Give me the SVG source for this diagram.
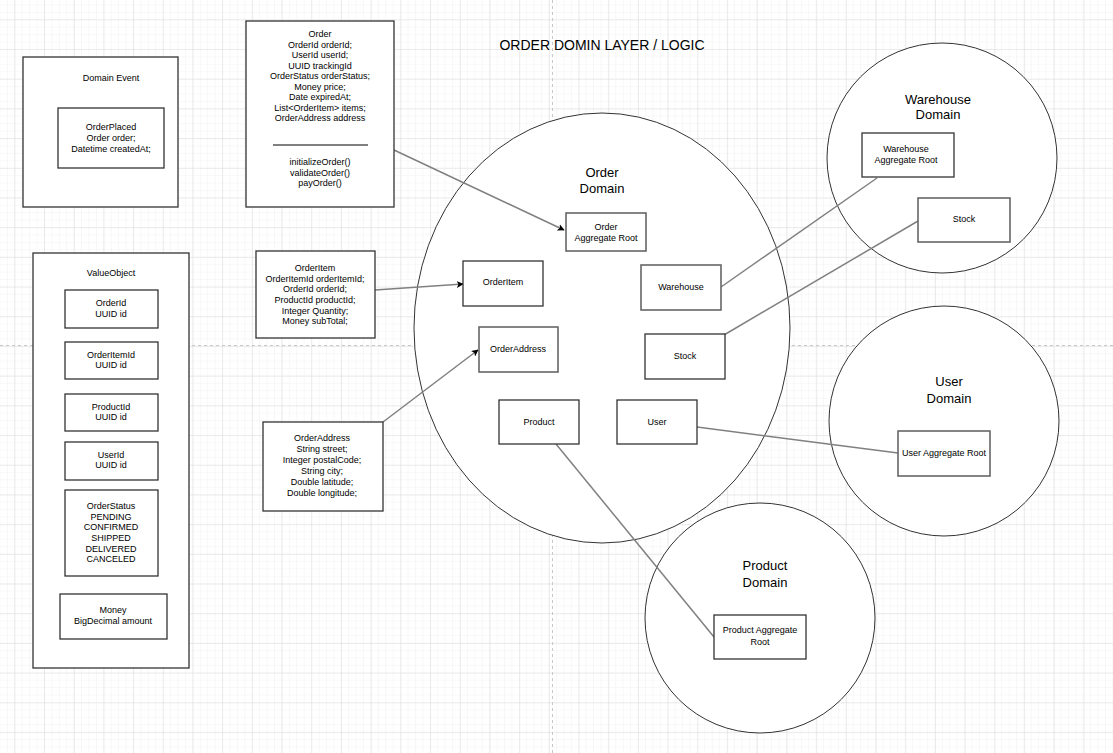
<svg xmlns="http://www.w3.org/2000/svg" width="1113" height="753" viewBox="0 0 1113 753">
  <defs>
    <pattern id="minor" x="14.3" y="19.3" width="7.42" height="7.42" patternUnits="userSpaceOnUse">
      <path d="M0 0H7.42M0 0V7.42" fill="none" stroke="#f1f1f1" stroke-width="1"/>
    </pattern>
    <pattern id="major" x="14.3" y="19.3" width="29.7" height="29.7" patternUnits="userSpaceOnUse">
      <path d="M0 0H29.7M0 0V29.7" fill="none" stroke="#dcdcdc" stroke-width="1"/>
    </pattern>
    <marker id="arrow" viewBox="0 0 10 10" refX="9" refY="5" markerWidth="7" markerHeight="7" markerUnits="userSpaceOnUse" orient="auto">
      <path d="M0 0L10 5L0 10L2.5 5Z" fill="#000"/>
    </marker>
    <style>
      text { font-family: "Liberation Sans", Arial, sans-serif; fill: #000; }
      .t { font-size: 9px; text-anchor: middle; }
      .d { font-size: 13px; text-anchor: middle; }
      .box { fill: #fff; stroke: #333; stroke-width: 1.3; }
      .box2 { fill: #fff; stroke: #666; stroke-width: 1.6; }
      .dom { fill: #fff; stroke: #333; stroke-width: 1; }
      .link { fill: none; stroke: #808080; stroke-width: 1.5; }
    </style>
  </defs>

  <!-- canvas grid -->
  <rect width="1113" height="753" fill="#fff"/>
  <rect width="1113" height="753" fill="url(#minor)"/>
  <rect width="1113" height="753" fill="url(#major)"/>
  <path d="M0 345.5H1113M552.5 0V753" stroke="#c8c8c8" stroke-width="1" stroke-dasharray="3 3" fill="none"/>

  <text x="602" y="50" style="font-size:14px;text-anchor:middle">ORDER DOMIN LAYER / LOGIC</text>

  <!-- bounded contexts -->
  <g id="order-domain">
    <ellipse class="dom" cx="602" cy="328" rx="188" ry="215"/>
    <text class="d" x="602" y="177">Order</text>
    <text class="d" x="602" y="193">Domain</text>
  </g>
  <g id="warehouse-domain">
    <circle class="dom" cx="942" cy="158" r="115"/>
    <text class="d" x="938" y="104">Warehouse</text>
    <text class="d" x="938" y="119">Domain</text>
  </g>
  <g id="user-domain">
    <circle class="dom" cx="944" cy="421" r="115"/>
    <text class="d" x="949" y="386">User</text>
    <text class="d" x="949" y="403">Domain</text>
  </g>
  <g id="product-domain">
    <circle class="dom" cx="760" cy="618" r="115"/>
    <text class="d" x="765" y="570">Product</text>
    <text class="d" x="765" y="587">Domain</text>
  </g>

  <!-- connectors -->
  <g id="connectors">
    <path class="link" d="M394 150L564 230" marker-end="url(#arrow)"/>
    <path class="link" d="M375 290L463 284" marker-end="url(#arrow)"/>
    <path class="link" d="M383 422L478 350" marker-end="url(#arrow)"/>
    <path class="link" d="M721 287L877 178"/>
    <path class="link" d="M724 335L918 221"/>
    <path class="link" d="M697 427L898 453"/>
    <path class="link" d="M556 444L714 637"/>
  </g>

  <!-- domain event -->
  <g id="domain-event">
    <rect class="box" x="23" y="57" width="155" height="150"/>
    <text class="t" x="111" y="81">Domain Event</text>
  </g>
  <g id="order-placed">
    <rect class="box" x="58" y="108" width="106" height="60"/>
    <text class="t" x="111" y="130">OrderPlaced</text>
    <text class="t" x="111" y="141">Order order;</text>
    <text class="t" x="111" y="152">Datetime createdAt;</text>
  </g>

  <!-- order entity -->
  <g id="order">
    <rect class="box" x="246" y="21" width="148" height="186"/>
    <text class="t" x="320" y="37">Order</text>
    <text class="t" x="320" y="47.5">OrderId orderId;</text>
    <text class="t" x="320" y="58">UserId userId;</text>
    <text class="t" x="320" y="68.5">UUID trackingId</text>
    <text class="t" x="320" y="79">OrderStatus orderStatus;</text>
    <text class="t" x="320" y="89.5">Money price;</text>
    <text class="t" x="320" y="100">Date expiredAt;</text>
    <text class="t" x="320" y="110.5">List&lt;OrderItem&gt; items;</text>
    <text class="t" x="320" y="121">OrderAddress address</text>
    <path d="M273 145H368" stroke="#000" stroke-width="1"/>
    <text class="t" x="320" y="165">initializeOrder()</text>
    <text class="t" x="320" y="175.5">validateOrder()</text>
    <text class="t" x="320" y="186">payOrder()</text>
  </g>

  <!-- value objects -->
  <g id="value-object">
    <rect class="box" x="33" y="253" width="156" height="415"/>
    <text class="t" x="111" y="276">ValueObject</text>
  </g>
  <g id="vo-order-id">
    <rect class="box" x="65" y="290" width="93" height="38"/>
    <text class="t" x="111" y="306">OrderId</text>
    <text class="t" x="111" y="316.5">UUID id</text>
  </g>
  <g id="vo-order-item-id">
    <rect class="box" x="65" y="342" width="93" height="37"/>
    <text class="t" x="111" y="357.5">OrderItemId</text>
    <text class="t" x="111" y="368">UUID id</text>
  </g>
  <g id="vo-product-id">
    <rect class="box" x="65" y="394" width="93" height="37"/>
    <text class="t" x="111" y="409.5">ProductId</text>
    <text class="t" x="111" y="420">UUID id</text>
  </g>
  <g id="vo-user-id">
    <rect class="box" x="65" y="442" width="93" height="38"/>
    <text class="t" x="111" y="457.5">UserId</text>
    <text class="t" x="111" y="468">UUID id</text>
  </g>
  <g id="vo-order-status">
    <rect class="box" x="65" y="490" width="93" height="86"/>
    <text class="t" x="111" y="509">OrderStatus</text>
    <text class="t" x="111" y="519.5">PENDING</text>
    <text class="t" x="111" y="530">CONFIRMED</text>
    <text class="t" x="111" y="541">SHIPPED</text>
    <text class="t" x="111" y="551.5">DELIVERED</text>
    <text class="t" x="111" y="562">CANCELED</text>
  </g>
  <g id="vo-money">
    <rect class="box" x="60" y="594" width="107" height="45"/>
    <text class="t" x="113" y="613">Money</text>
    <text class="t" x="113" y="623.5">BigDecimal amount</text>
  </g>

  <!-- order item / address -->
  <g id="order-item-def">
    <rect class="box" x="256" y="251" width="119" height="87"/>
    <text class="t" x="315" y="271">OrderItem</text>
    <text class="t" x="315" y="281.5">OrderItemId orderItemId;</text>
    <text class="t" x="315" y="292">OrderId orderId;</text>
    <text class="t" x="315" y="303">ProductId productId;</text>
    <text class="t" x="315" y="313.5">Integer Quantity;</text>
    <text class="t" x="315" y="324">Money subTotal;</text>
  </g>
  <g id="order-address-def">
    <rect class="box" x="263" y="422" width="120" height="89"/>
    <text class="t" x="322" y="441">OrderAddress</text>
    <text class="t" x="322" y="452">String street;</text>
    <text class="t" x="322" y="463">Integer postalCode;</text>
    <text class="t" x="322" y="474">String city;</text>
    <text class="t" x="322" y="485">Double latitude;</text>
    <text class="t" x="322" y="496">Double longitude;</text>
  </g>

  <!-- order domain members -->
  <g id="order-aggregate-root">
    <rect class="box2" x="566" y="213" width="80" height="38"/>
    <text class="t" x="606" y="230">Order</text>
    <text class="t" x="606" y="240.5">Aggregate Root</text>
  </g>
  <g id="order-item">
    <rect class="box" x="463" y="261" width="80" height="45"/>
    <text class="t" x="503" y="284.5">OrderItem</text>
  </g>
  <g id="order-address">
    <rect class="box2" x="479" y="327" width="79" height="45"/>
    <text class="t" x="518" y="352">OrderAddress</text>
  </g>
  <g id="warehouse">
    <rect class="box2" x="641" y="265" width="80" height="45"/>
    <text class="t" x="681" y="290">Warehouse</text>
  </g>
  <g id="stock">
    <rect class="box" x="645" y="334" width="80" height="45"/>
    <text class="t" x="685" y="359">Stock</text>
  </g>
  <g id="product">
    <rect class="box" x="499" y="400" width="80" height="44"/>
    <text class="t" x="539" y="424.5">Product</text>
  </g>
  <g id="user">
    <rect class="box" x="617" y="400" width="80" height="44"/>
    <text class="t" x="657" y="424.5">User</text>
  </g>

  <!-- other domains' members -->
  <g id="warehouse-aggregate-root">
    <rect class="box" x="862" y="133" width="92" height="44"/>
    <text class="t" x="906" y="152">Warehouse</text>
    <text class="t" x="906" y="163">Aggregate Root</text>
  </g>
  <g id="warehouse-stock">
    <rect class="box2" x="918" y="198" width="92" height="44"/>
    <text class="t" x="964" y="222">Stock</text>
  </g>
  <g id="user-aggregate-root">
    <rect class="box2" x="898" y="431" width="92" height="45"/>
    <text class="t" x="944" y="456">User Aggregate Root</text>
  </g>
  <g id="product-aggregate-root">
    <rect class="box" x="714" y="615" width="92" height="44"/>
    <text class="t" x="760" y="633">Product Aggregate</text>
    <text class="t" x="760" y="644.5">Root</text>
  </g>
</svg>
